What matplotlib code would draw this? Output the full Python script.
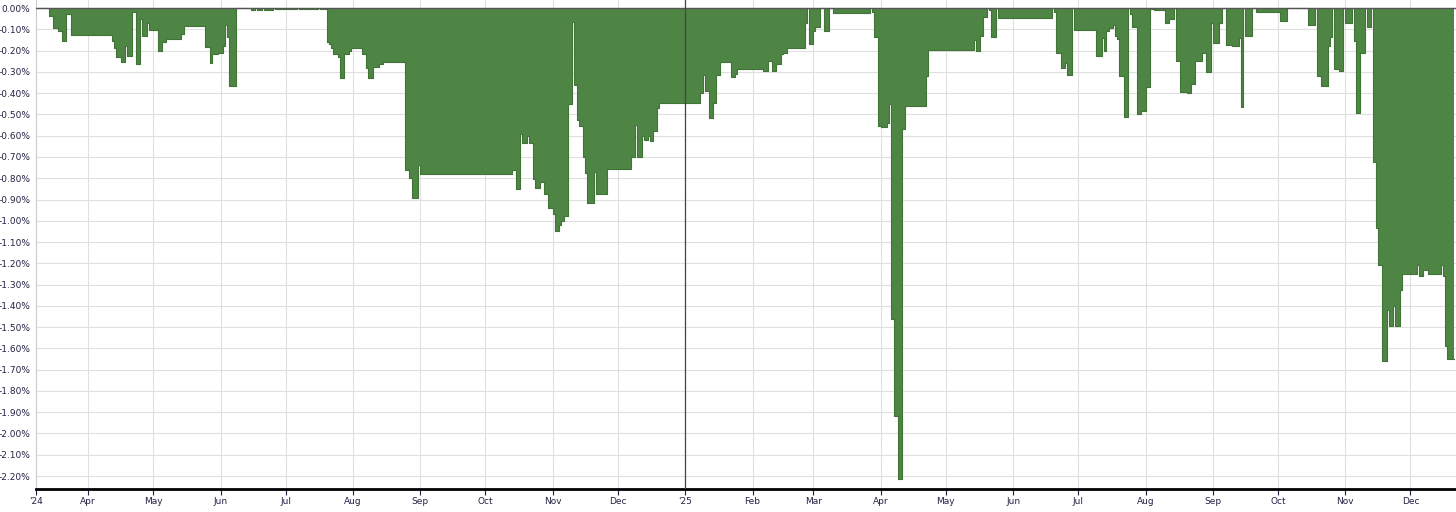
import numpy as np
import pandas as pd
import matplotlib.pyplot as plt

start = pd.Timestamp('2024-03-08')

# drawdown runs: day offset from start where each level begins, level in %
day = [0, 6, 8, 10, 12, 14, 16, 35, 36, 37, 39, 41, 42, 44, 46, 48, 49, 51, 52, 56,
       58, 60, 67, 68, 78, 80, 81, 84, 86, 87, 88, 89, 92, 99, 101, 102, 104, 105, 109, 110,
       120, 121, 130, 131, 134, 135, 136, 137, 139, 140, 142, 144, 145, 150, 152, 153, 155, 158, 160, 170,
       172, 173, 176, 177, 219, 221, 223, 224, 226, 227, 229, 230, 232, 234, 236, 238, 239, 241, 242, 243,
       245, 247, 248, 249, 250, 252, 253, 254, 257, 258, 263, 274, 276, 277, 279, 280, 282, 283, 284, 286,
       287, 306, 307, 308, 310, 312, 313, 315, 320, 322, 323, 335, 337, 339, 341, 343, 344, 346, 354, 355,
       356, 358, 359, 361, 363, 365, 367, 384, 385, 386, 388, 389, 392, 393, 394, 395, 397, 399, 400, 410,
       411, 432, 433, 435, 436, 438, 439, 440, 442, 443, 468, 469, 470, 472, 474, 475, 477, 478, 488, 491,
       492, 493, 494, 496, 497, 498, 499, 501, 503, 504, 505, 507, 509, 511, 513, 515, 520, 522, 524, 525,
       527, 530, 532, 534, 537, 539, 541, 542, 545, 546, 548, 551, 554, 555, 556, 557, 560, 562, 573, 576,
       586, 589, 590, 592, 595, 596, 597, 598, 600, 602, 603, 606, 607, 608, 610, 612, 613, 615, 616, 617,
       618, 620, 622, 623, 625, 626, 628, 629, 636, 637, 639, 641, 647, 648, 649, 650]
dd = [0, -0.036, -0.095, -0.11, -0.155, -0.03, -0.125, -0.155, -0.19, -0.23, -0.255, -0.18, -0.225, -0.02, -0.264, -0.05, -0.13, -0.07, -0.105, -0.20,
      -0.16, -0.146, -0.123, -0.083, -0.185, -0.256, -0.217, -0.21, -0.18, -0.08, -0.135, -0.366, 0, -0.01, 0, -0.01, 0, -0.008, 0, -0.006,
      0, -0.006, 0, -0.006, -0.16, -0.17, -0.19, -0.217, -0.23, -0.33, -0.217, -0.20, -0.19, -0.215, -0.28, -0.33, -0.275, -0.265, -0.253, -0.762,
      -0.80, -0.895, -0.74, -0.782, -0.76, -0.85, -0.593, -0.636, -0.60, -0.636, -0.805, -0.845, -0.82, -0.876, -0.94, -0.97, -1.049, -1.02, -1.0, -0.978,
      -0.452, -0.066, -0.363, -0.526, -0.555, -0.698, -0.775, -0.918, -0.77, -0.873, -0.755, -0.70, -0.55, -0.70, -0.60, -0.62, -0.60, -0.625, -0.58, -0.47,
      -0.445, -0.40, -0.315, -0.39, -0.518, -0.445, -0.315, -0.255, -0.325, -0.31, -0.288, -0.296, -0.25, -0.296, -0.265, -0.217, -0.21, -0.188, -0.07, 0,
      -0.17, -0.11, -0.09, 0, -0.11, 0, -0.025, 0, -0.02, -0.137, -0.553, -0.56, -0.54, -0.45, -1.462, -1.92, -2.214, -0.57, -0.46, -0.32,
      -0.197, -0.15, -0.20, -0.13, -0.04, 0, -0.01, -0.137, 0, -0.047, 0, -0.02, -0.21, -0.283, -0.26, -0.316, 0, -0.102, -0.227, -0.14,
      -0.20, -0.11, -0.095, -0.08, -0.13, -0.145, -0.32, -0.51, 0, -0.03, -0.09, -0.50, -0.485, -0.373, -0.005, -0.01, -0.07, -0.05, 0, -0.25,
      -0.393, -0.40, -0.358, -0.25, -0.21, -0.30, -0.07, -0.162, -0.07, 0, -0.172, -0.18, -0.14, -0.467, 0, -0.13, 0, -0.02, -0.063, 0,
      -0.08, 0, -0.32, -0.368, -0.178, -0.135, 0, -0.285, -0.297, 0, -0.068, 0, -0.156, -0.492, -0.21, 0, -0.087, 0, -0.723, -1.036,
      -1.206, -1.657, -1.42, -1.493, -1.40, -1.493, -1.327, -1.248, -1.21, -1.26, -1.23, -1.248, -1.21, -1.26, -1.59, -1.65]
last_day = 653

tick_dates = ['2024-03-08', '2024-04-01', '2024-05-01', '2024-06-01', '2024-07-01', '2024-08-01',
              '2024-09-01', '2024-10-01', '2024-11-01', '2024-12-01', '2025-01-01', '2025-02-01',
              '2025-03-01', '2025-04-01', '2025-05-01', '2025-06-01', '2025-07-01', '2025-08-01',
              '2025-09-01', '2025-10-01', '2025-11-01', '2025-12-01']
tick_labels = ["'24", 'Apr', 'May', 'Jun', 'Jul', 'Aug', 'Sep', 'Oct', 'Nov', 'Dec', "'25", 'Feb',
               'Mar', 'Apr', 'May', 'Jun', 'Jul', 'Aug', 'Sep', 'Oct', 'Nov', 'Dec']

x = start + pd.to_timedelta(day + [last_day], unit='D')
y = np.array(dd + [dd[-1]])

fig = plt.figure(figsize=(14.56, 5.12), dpi=100)
ax = fig.add_axes([36 / 1456, 1 - 489 / 512, 1 - 36 / 1456, 489 / 512])

green = '#4e8544'
ax.fill_between(x, y, 0, step='post', color=green, linewidth=0)
ax.step(x, y, where='post', color='#3f7436', linewidth=0.8)
ax.axhline(0, color='#555555', linewidth=1, zorder=3)
# year boundary line, drawn over the bars
ax.axvline(pd.Timestamp('2025-01-01'), color='#444444', linewidth=0.9, zorder=4)

ax.set_xlim(start, start + pd.Timedelta(days=654))
ax.set_ylim(-2.261, 0.038)

yt = np.round(np.arange(0, -2.21, -0.1), 2)
ax.set_yticks(yt)
ax.set_yticklabels(['%.2f%%' % v for v in yt])
ax.set_xticks(pd.to_datetime(tick_dates))
ax.set_xticklabels(tick_labels)

ax.grid(True, color='#e0e0e0', linewidth=0.8)
ax.set_axisbelow(True)

for s in ['top', 'right']:
    ax.spines[s].set_visible(False)
ax.spines['left'].set_color('#cccccc')
ax.spines['bottom'].set_color('black')
ax.spines['bottom'].set_linewidth(2)

ax.tick_params(axis='y', length=0, labelsize=6.5, colors='#222244', pad=4)
ax.tick_params(axis='x', length=4, width=0.8, labelsize=6.5, colors='#222244', pad=2)

fig.savefig('out.png', dpi=100)
